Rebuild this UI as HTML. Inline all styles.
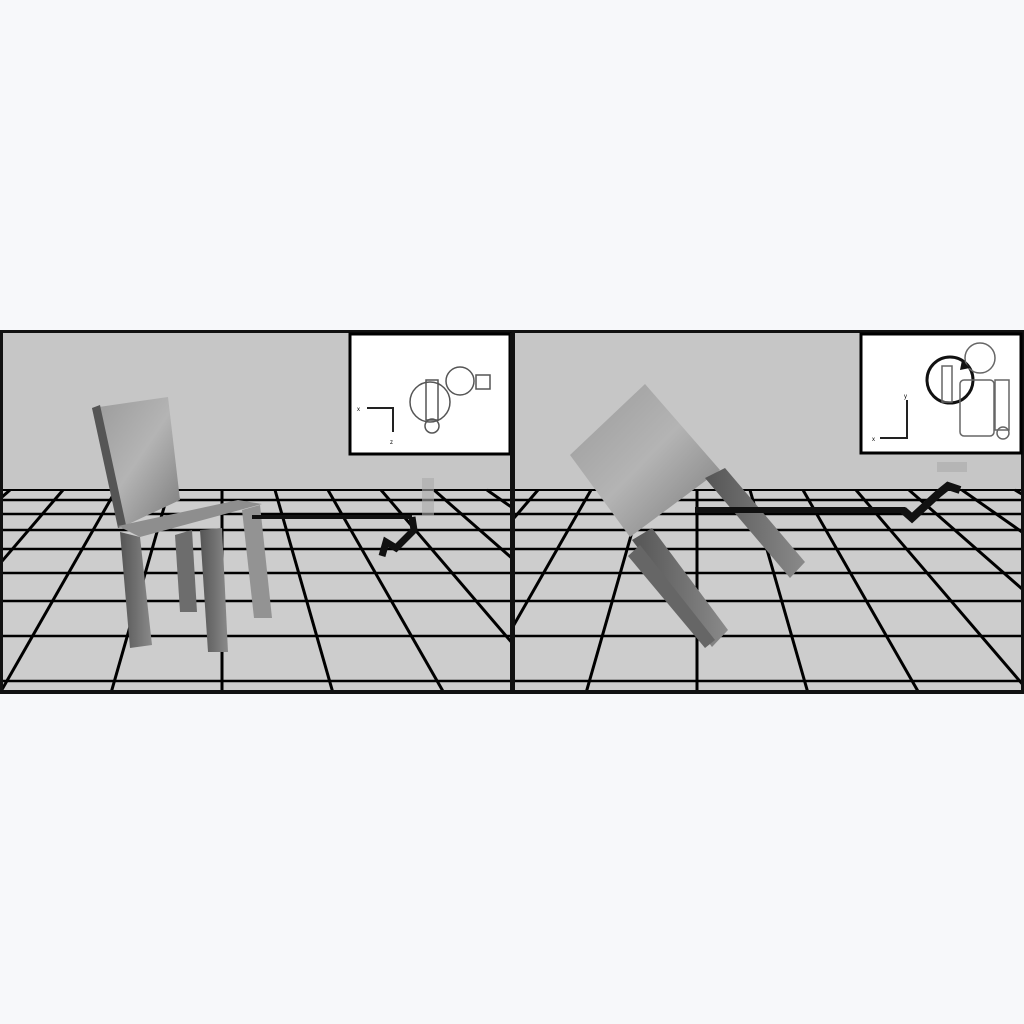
<!DOCTYPE html>
<html><head><meta charset="utf-8"><style>
html,body{margin:0;padding:0;background:#f7f8fa;}
svg{display:block}
</style></head><body>
<svg width="1024" height="1024" viewBox="0 0 1024 1024" xmlns="http://www.w3.org/2000/svg">
<defs>
<linearGradient id="wood" x1="0" y1="0" x2="1" y2="1"><stop offset="0" stop-color="#9a9a9a"/><stop offset="0.5" stop-color="#b4b4b4"/><stop offset="1" stop-color="#7a7a7a"/></linearGradient>
<linearGradient id="dark" x1="0" y1="0" x2="1" y2="0"><stop offset="0" stop-color="#555"/><stop offset="1" stop-color="#8a8a8a"/></linearGradient>
<clipPath id="cl"><rect x="3" y="333" width="507" height="357"/></clipPath>
<clipPath id="cr"><rect x="515" y="333" width="506" height="357"/></clipPath>
</defs>
<rect x="0" y="0" width="1024" height="1024" fill="#f7f8fa"/>
<rect x="0" y="330" width="1024" height="364" fill="#111"/>
<g id="left" clip-path="url(#cl)">
<rect x="3" y="333" width="507" height="357" fill="#c6c6c6"/>
<rect x="3" y="490" width="507" height="200" fill="#cdcdcd"/>
<g id="gl" stroke="#000" stroke-width="3"></g>
</g>
<g id="right" clip-path="url(#cr)">
<rect x="515" y="333" width="506" height="357" fill="#c6c6c6"/>
<rect x="515" y="490" width="506" height="200" fill="#cdcdcd"/>
<g id="gr" stroke="#000" stroke-width="3"></g>
</g>
<!-- left chair -->
<g>
<polygon points="92,408 168,397 180,500 120,528" fill="url(#wood)"/>
<polygon points="92,408 100,405 126,525 118,528" fill="#555"/>
<polygon points="118,526 238,500 262,504 140,537" fill="#8e8e8e"/>
<polygon points="120,532 140,537 152,645 130,648" fill="url(#dark)"/>
<polygon points="175,535 192,530 197,612 180,612" fill="#6d6d6d"/>
<polygon points="200,530 222,528 228,652 208,652" fill="url(#dark)"/>
<polygon points="242,510 260,505 272,618 254,618" fill="#939393"/>
</g>
<g fill="none" stroke="#111">
<line x1="252" y1="517" x2="412" y2="517" stroke-width="4"/>
<polyline points="412,517 414,530 396,548 386,542 382,556" stroke-width="7"/>
<rect x="422" y="478" width="12" height="38" fill="#aaa" stroke="none" opacity="0.6"/>
</g>
<!-- right chair -->
<g>
<polygon points="645,384 720,470 630,537 570,455" fill="url(#wood)"/>
<polygon points="705,478 725,468 805,562 790,578" fill="url(#dark)"/>
<polygon points="632,540 652,528 728,630 712,647" fill="url(#dark)"/>
<polygon points="628,556 640,545 715,640 705,648" fill="#666"/>
</g>
<g fill="none" stroke="#111">
<line x1="695" y1="510" x2="905" y2="510" stroke-width="6"/>
<polyline points="903,510 912,518 938,494 948,486 960,490" stroke-width="8"/>
<rect x="937" y="462" width="30" height="10" fill="#aaa" stroke="none" opacity="0.6"/>
</g>
<!-- insets -->
<g>
<rect x="350" y="334" width="160" height="120" fill="#fff" stroke="#000" stroke-width="3"/>
<polyline points="367,408 393,408 393,432" fill="none" stroke="#222" stroke-width="2"/>
<text x="357" y="411" font-family="Liberation Sans, sans-serif" font-size="6">x</text>
<text x="390" y="444" font-family="Liberation Sans, sans-serif" font-size="6">z</text>
<circle cx="430" cy="402" r="20" fill="none" stroke="#555" stroke-width="1.5"/>
<circle cx="460" cy="381" r="14" fill="none" stroke="#555" stroke-width="1.5"/>
<rect x="426" y="380" width="12" height="40" fill="none" stroke="#555" stroke-width="1.5"/>
<rect x="476" y="375" width="14" height="14" fill="none" stroke="#555" stroke-width="1.5"/>
<circle cx="432" cy="426" r="7" fill="none" stroke="#555" stroke-width="1.5"/>
</g>
<g>
<rect x="861" y="334" width="160" height="119" fill="#fff" stroke="#000" stroke-width="3"/>
<polyline points="880,438 907,438 907,400" fill="none" stroke="#222" stroke-width="2"/>
<text x="872" y="441" font-family="Liberation Sans, sans-serif" font-size="6">x</text>
<text x="904" y="398" font-family="Liberation Sans, sans-serif" font-size="6">y</text>
<circle cx="950" cy="380" r="23" fill="none" stroke="#111" stroke-width="3"/>
<circle cx="980" cy="358" r="15" fill="none" stroke="#666" stroke-width="1.5"/>
<rect x="942" y="366" width="10" height="36" fill="none" stroke="#666" stroke-width="1.5"/>
<rect x="960" y="380" width="34" height="56" rx="4" fill="none" stroke="#666" stroke-width="1.5"/>
<rect x="995" y="380" width="14" height="50" fill="none" stroke="#666" stroke-width="1.5"/>
<circle cx="1003" cy="433" r="6" fill="none" stroke="#666" stroke-width="1.5"/>
<polygon points="962,360 970,368 960,370" fill="#111"/>
</g>
<rect x="510" y="333" width="4" height="358" fill="#111"/>
<script>
const rowsY = [490, 500, 514, 530, 549, 573, 601, 636, 681];
const colsK = [-5,-4,-3,-2,-1,0,1,2,3,4,5,6,7];
function grid(id, cx, x0, x1){
  const g = document.getElementById(id);
  const ns = "http://www.w3.org/2000/svg";
  rowsY.forEach(y=>{
    const l=document.createElementNS(ns,'line');
    
    
    l.setAttribute('x1',x0);l.setAttribute('x2',x1);l.setAttribute('y1',y);l.setAttribute('y2',y);
    l.setAttribute('stroke-width', y===490?2:2.5);
    g.appendChild(l);
  });
  colsK.forEach(k=>{
    const l=document.createElementNS(ns,'line');
    
    
    l.setAttribute('x1',cx+k*53);l.setAttribute('y1',490);
    l.setAttribute('x2',cx+k*111);l.setAttribute('y2',693);
    g.appendChild(l);
  });
}
grid('gl',222,3,510);
grid('gr',697,515,1021);
</script>
</svg>
</body></html>
